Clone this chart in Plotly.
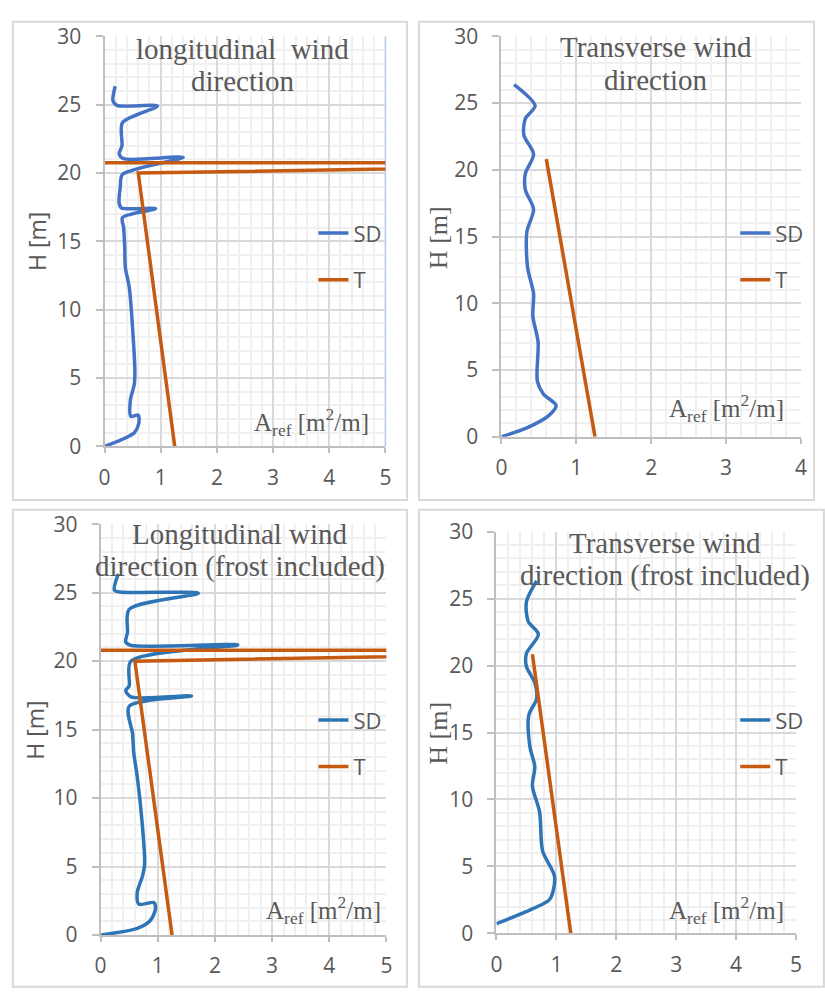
import plotly.graph_objects as go

# ---------------- data ----------------
# Panel 1: longitudinal wind direction
sd1_x = [0, 0.38, 0.53, 0.61, 0.60, 0.47, 0.46, 0.53, 0.54, 0.50, 0.44, 0.37, 0.36, 0.34, 0.32, 0.91, 0.30, 0.26, 0.28, 0.32, 1.40, 0.34, 0.26, 0.31, 0.32, 0.94, 0.22, 0.15, 0.19]
sd1_y = [0, 0.64, 1.0, 1.7, 2.3, 2.2, 3.4, 4.55, 5.5, 8.6, 11.65, 13.1, 14.5, 16.0, 16.75, 17.4, 17.45, 17.8, 19.0, 19.9, 21.15, 21.05, 21.4, 22.0, 23.7, 24.9, 24.95, 25.3, 26.35]
t1_x = [1.25, 0.6, 11.7, 0]
t1_y = [0, 20.0, 20.75, 20.75]

# Panel 2: transverse wind direction
sd2_x = [0, 0.34, 0.64, 0.73, 0.56, 0.48, 0.49, 0.42, 0.43, 0.35, 0.34, 0.43, 0.32, 0.32, 0.43, 0.30, 0.32, 0.45, 0.17]
sd2_y = [0, 0.66, 1.62, 2.35, 3.2, 4.17, 7.09, 9.03, 10.73, 12.67, 15.35, 17.04, 18.5, 19.72, 21.17, 22.6, 23.84, 24.8, 26.39]
t2_x = [1.25, 0.6]
t2_y = [0, 20.8]

# Panel 3: longitudinal wind direction (frost included)
sd3_x = [0.01, 0.64, 0.87, 0.96, 0.93, 0.67, 0.64, 0.73, 0.77, 0.73, 0.64, 0.58, 0.56, 0.50, 1.59, 0.53, 0.44, 0.50, 0.53, 2.40, 0.53, 0.44, 0.47, 0.50, 1.71, 0.33, 0.24, 0.31]
sd3_y = [0, 0.48, 1.06, 1.9, 2.37, 2.25, 3.08, 4.26, 5.2, 8.05, 11.6, 13.3, 14.67, 16.7, 17.46, 17.39, 17.86, 18.2, 20.0, 21.18, 21.15, 21.4, 22.1, 23.78, 24.96, 25.05, 25.2, 26.38]
t3_x = [1.25, 0.6, 11.7, 0]
t3_y = [0, 20.0, 20.8, 20.8]

# Panel 4: transverse wind direction (frost included)
sd4_x = [0, 0.59, 0.89, 0.97, 0.77, 0.72, 0.60, 0.64, 0.56, 0.54, 0.67, 0.64, 0.50, 0.50, 0.70, 0.53, 0.50, 0.67]
sd4_y = [0.72, 1.81, 2.54, 4.23, 6.16, 9.07, 11.0, 12.46, 13.9, 16.3, 17.52, 18.72, 19.93, 20.9, 22.34, 23.3, 24.76, 26.33]
t4_x = [1.24, 0.6]
t4_y = [0, 20.85]

titles = [
    ["longitudinal\u00a0 wind", "direction"],
    ["Transverse wind", "direction"],
    ["Longitudinal wind", "direction (frost included)"],
    ["Transverse wind", "direction (frost included)"],
]
x_max = [5, 4, 5, 5]
series_names = ["SD", "T"]

# ---------------- layout geometry (pixels) ----------------
W, H = 825, 992
# plot areas: left, right, top, bottom in px
areas = [
    (100, 385, 22, 444),
    (502.7, 806.7, 22, 434),
    (96, 386, 524, 946.7),
    (497.7, 801.7, 531.7, 945),
]
sd_colors = ["#4472C4", "#4472C4", "#2E75B6", "#2E75B6"]
t_color = "#C55A11"

def px(x):
    return x / W

def py(y):
    return 1 - y / H

fig = go.Figure()
sd_data = [(sd1_x, sd1_y), (sd2_x, sd2_y), (sd3_x, sd3_y), (sd4_x, sd4_y)]
t_data = [(t1_x, t1_y), (t2_x, t2_y), (t3_x, t3_y), (t4_x, t4_y)]

for i in range(4):
    sfx = "" if i == 0 else str(i + 1)
    leg = "legend" if i == 0 else "legend" + str(i + 1)
    fig.add_trace(go.Scatter(
        x=sd_data[i][0], y=sd_data[i][1], mode="lines", name=series_names[0],
        line=dict(color=sd_colors[i], width=3.5, shape="spline", smoothing=0.8),
        xaxis="x" + sfx, yaxis="y" + sfx, legend=leg, legendgroup="sd" + sfx))
    fig.add_trace(go.Scatter(
        x=t_data[i][0], y=t_data[i][1], mode="lines", name=series_names[1],
        line=dict(color=t_color, width=3.5),
        xaxis="x" + sfx, yaxis="y" + sfx, legend=leg, legendgroup="t" + sfx))

tick_font = dict(family="Open Sans", size=21, color="#595959")
layout = dict(
    width=W, height=H, margin=dict(l=0, r=0, t=0, b=0),
    paper_bgcolor="white", plot_bgcolor="white", showlegend=True,
)
annotations = []
shapes = []
for i in range(4):
    l, r, t, b = areas[i]
    sfx = "" if i == 0 else str(i + 1)
    layout["xaxis" + sfx] = dict(
        domain=[px(l), px(r)], anchor="y" + sfx, range=[0, x_max[i]],
        dtick=1, tick0=0, showgrid=True, gridcolor="#d9d9d9", gridwidth=1.5,
        minor=dict(dtick=0.2, tick0=0, showgrid=True, gridcolor="#f0f0f0", gridwidth=1.5),
        showline=True, linecolor="#bfbfbf", linewidth=2, zeroline=False,
        ticks="outside", ticklen=5, tickwidth=1.5, tickcolor="#bfbfbf",
        tickfont=tick_font, ticklabelstandoff=6, fixedrange=True)
    layout["yaxis" + sfx] = dict(
        domain=[py(b), py(t)], anchor="x" + sfx, range=[0, 30],
        dtick=5, tick0=0, showgrid=True, gridcolor="#d9d9d9", gridwidth=1.5,
        minor=dict(dtick=1, tick0=0, showgrid=True, gridcolor="#f0f0f0", gridwidth=1.5),
        showline=True, linecolor="#bfbfbf", linewidth=2, zeroline=False,
        ticks="outside", ticklen=7, tickwidth=1.5, tickcolor="#bfbfbf",
        tickfont=tick_font, ticklabelstandoff=10, fixedrange=True)

# legends
leg_pos = [(312, 203), (740, 203), (312, 704), (740, 704)]
for i in range(4):
    name = "legend" if i == 0 else "legend" + str(i + 1)
    lx, ly = leg_pos[i]
    layout[name] = dict(x=px(lx), y=py(ly), xanchor="left", yanchor="top",
                        bgcolor="rgba(0,0,0,0)", borderwidth=0, tracegroupgap=15,
                        font=dict(family="Open Sans", size=22, color="#595959"))

# titles (two lines each), centred horizontally; values are text baselines in px
title_pos = [
    (240, 45, 78), (660, 43, 77), (237, 545, 579), (669, 554, 588)
]
serif = "Liberation Serif"
for i in range(4):
    cx, b1, b2 = title_pos[i]
    for line, base in zip(titles[i], (b1, b2)):
        annotations.append(dict(
            text=line, x=px(cx), y=py(base + 8), xref="paper", yref="paper",
            xanchor="center", yanchor="bottom", showarrow=False,
            font=dict(family=serif, size=29, color="#595959")))

# x-axis labels inside plot (A_ref)
xlab_pos = [(370, 432), (792, 418), (383, 935), (792, 935)]
for i in range(4):
    x, base = xlab_pos[i]
    annotations.append(dict(
        text="A<sub>ref</sub> [m<sup>2</sup>/m]", x=px(x), y=py(base + 7),
        xref="paper", yref="paper", xanchor="right", yanchor="bottom",
        showarrow=False, font=dict(family=serif, size=25, color="#595959")))

# y-axis titles
ylab = [(32, 233, "Open Sans", 23), (439, 229, serif, 26),
        (30, 736, "Open Sans", 23), (439, 739, serif, 26)]
for x, y, fam, sz in ylab:
    annotations.append(dict(
        text="H [m]", x=px(x), y=py(y), xref="paper", yref="paper",
        xanchor="center", yanchor="middle", textangle=-90, showarrow=False,
        font=dict(family=fam, size=sz, color="#595959")))

# panel borders
borders = [(7, 407, 7, 499), (419, 820, 7, 499), (7, 407, 509, 1000), (419, 830, 509, 1000)]
for x0, x1, y0, y1 in borders:
    shapes.append(dict(type="rect", xref="paper", yref="paper",
                       x0=px(x0), x1=px(x1), y0=py(y0), y1=py(y1),
                       line=dict(color="#d9d9d9", width=2), layer="below"))
# light blue right edge on first panel
shapes.append(dict(type="line", xref="x domain", yref="y domain", x0=1, x1=1, y0=0, y1=1,
                   line=dict(color="#b4c7e7", width=1.5), layer="below"))

layout["annotations"] = annotations
layout["shapes"] = shapes
fig.update_layout(**layout)
fig.write_html("out.html")
